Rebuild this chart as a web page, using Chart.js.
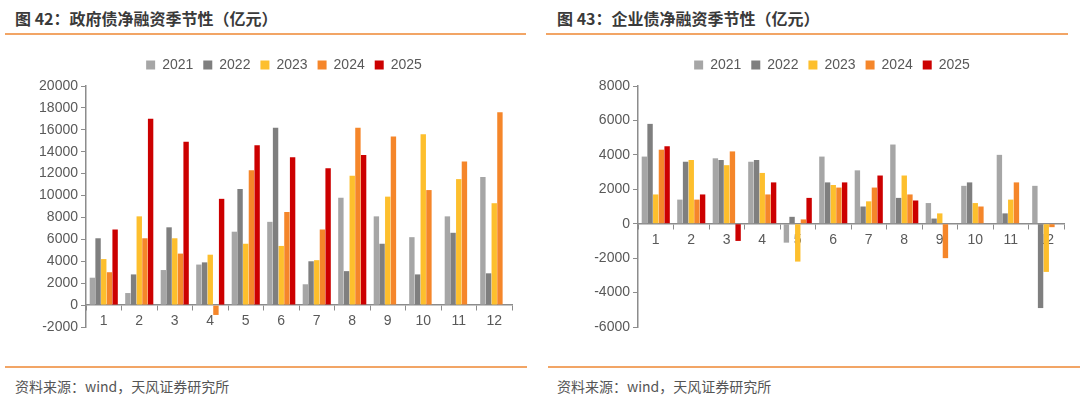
<!DOCTYPE html>
<html>
<head>
<meta charset="utf-8">
<script src="https://cdn.jsdelivr.net/npm/chart.js@4"></script>
<style>
  html, body { margin: 0; padding: 0; background: #fff; }
  body { width: 1080px; height: 399px; position: relative; overflow: hidden; }
  .title { position: absolute; top: 6px; font: bold 16px "Noto Sans CJK SC", sans-serif; color: #3a3a3a; white-space: nowrap; }
  .rule { position: absolute; height: 2px; background: #f2a565; }
  .source { position: absolute; top: 376px; font: 14px "Noto Sans CJK SC", sans-serif; color: #555; white-space: nowrap; }
  .box { position: absolute; top: 42px; width: 524px; height: 300px; }
</style>
</head>
<body>
<div class="title" style="left:15px">图 42：政府债净融资季节性（亿元）</div>
<div class="title" style="left:557px">图 43：企业债净融资季节性（亿元）</div>
<div class="rule" style="left:5px;width:521px;top:33px"></div>
<div class="rule" style="left:546px;width:522px;top:33px"></div>
<div class="box" style="left:18px"><canvas id="govChart"></canvas></div>
<div class="box" style="left:570px"><canvas id="corpChart"></canvas></div>
<div class="rule" style="left:5px;width:522px;top:366px"></div>
<div class="rule" style="left:548px;width:532px;top:366px"></div>
<div class="source" style="left:15px">资料来源：wind，天风证券研究所</div>
<div class="source" style="left:557px">资料来源：wind，天风证券研究所</div>
<script>
const months = ["1", "2", "3", "4", "5", "6", "7", "8", "9", "10", "11", "12"];
const years = ["2021", "2022", "2023", "2024", "2025"];
const yearColors = ["#a6a6a6", "#7f7f7f", "#fdbf2d", "#f5862a", "#cc0000"];

// 政府债净融资
const gov2021 = [2500, 1100, 3200, 3700, 6700, 7600, 1900, 9800, 8100, 6200, 8100, 11700];
const gov2022 = [6100, 2800, 7100, 3900, 10600, 16200, 4000, 3100, 5600, 2800, 6600, 2900];
const gov2023 = [4200, 8100, 6100, 4600, 5600, 5400, 4100, 11800, 9900, 15600, 11500, 9300];
const gov2024 = [3000, 6100, 4700, -900, 12300, 8500, 6900, 16200, 15400, 10500, 13100, 17600];
const gov2025 = [6900, 17000, 14900, 9700, 14600, 13500, 12500, 13700, null, null, null, null];

// 企业债净融资
const corp2021 = [3900, 1400, 3800, 3600, -1100, 3900, 3100, 4600, 1200, 2200, 4000, 2200];
const corp2022 = [5800, 3600, 3700, 3700, 400, 2400, 1000, 1500, 300, 2400, 600, -4900];
const corp2023 = [1700, 3700, 3400, 2950, -2200, 2250, 1300, 2800, 600, 1200, 1400, -2800];
const corp2024 = [4300, 1400, 4200, 1700, 250, 2100, 2100, 1700, -2000, 1000, 2400, -200];
const corp2025 = [4500, 1700, -1000, 2400, 1500, 2400, 2800, 1350, null, null, null, null];

const govTicks = { min: -2000, max: 20000, step: 2000 };
const corpTicks = { min: -6000, max: 8000, step: 2000 };

Chart.defaults.font.family = "'Liberation Sans', Arial, sans-serif";
Chart.defaults.font.size = 14;
Chart.defaults.color = "#595959";

const axisGray = "#8c8c8c";

// extra gap under the legend, and a sideways nudge of the legend
const legendTweak = {
  id: "legendTweak",
  beforeInit(chart) {
    const fit = chart.legend.fit;
    chart.legend.fit = function () {
      fit.bind(chart.legend)();
      this.height += 4;
    };
  },
  afterLayout(chart, args, opts) {
    chart.legend.left += opts.shift;
    chart.legend.right += opts.shift;
  }
};

function makeChart(id, series, range, shift) {
  new Chart(document.getElementById(id), {
    type: "bar",
    data: {
      labels: months,
      datasets: series.map((data, i) => ({
        label: years[i],
        data,
        backgroundColor: yearColors[i],
        categoryPercentage: 0.8,
        barPercentage: 0.95
      }))
    },
    options: {
      responsive: true,
      maintainAspectRatio: false,
      animation: false,
      layout: { padding: { left: 16, right: 30, top: 6, bottom: 15 } },
      plugins: {
        legend: {
          position: "top",
          labels: { boxWidth: 9, boxHeight: 9, padding: 10, color: "#595959" }
        },
        legendTweak: { shift },
        tooltip: { enabled: false }
      },
      scales: {
        x: {
          position: { y: 0 },
          grid: { offset: true, drawOnChartArea: false, drawTicks: true, tickLength: 5, color: axisGray },
          border: { color: axisGray, width: 1.5 },
          ticks: { padding: 3 }
        },
        y: {
          min: range.min,
          max: range.max,
          afterFit: axis => { axis.width = 52; },
          ticks: { stepSize: range.step, padding: 3, callback: v => String(v) },
          grid: { drawOnChartArea: false, drawTicks: true, tickLength: 5, color: axisGray },
          border: { color: axisGray, width: 1.5 }
        }
      }
    },
    plugins: [legendTweak]
  });
}

makeChart("govChart", [gov2021, gov2022, gov2023, gov2024, gov2025], govTicks, 11);
makeChart("corpChart", [corp2021, corp2022, corp2023, corp2024, corp2025], corpTicks, 7);
</script>
</body>
</html>
